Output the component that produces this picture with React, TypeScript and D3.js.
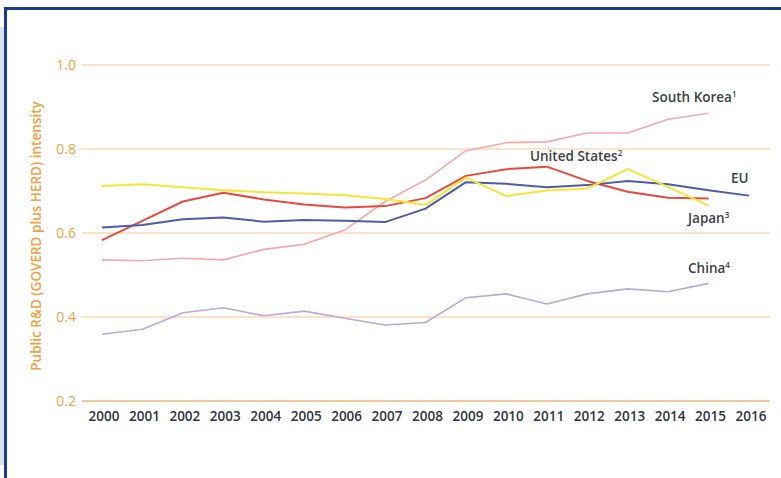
import React from "react";
import * as d3 from "d3";

const years = [2000, 2001, 2002, 2003, 2004, 2005, 2006, 2007, 2008, 2009, 2010, 2011, 2012, 2013, 2014, 2015, 2016];
const yTicks = [0.2, 0.4, 0.6, 0.8, 1.0];

const southKorea = [0.536, 0.534, 0.54, 0.536, 0.561, 0.573, 0.607, 0.675, 0.726, 0.796, 0.815, 0.817, 0.838, 0.838, 0.871, 0.885];
const unitedStates = [0.583, 0.629, 0.675, 0.696, 0.68, 0.668, 0.661, 0.664, 0.683, 0.736, 0.752, 0.758, 0.724, 0.698, 0.684, 0.682];
const eu = [0.613, 0.619, 0.633, 0.637, 0.627, 0.631, 0.629, 0.626, 0.658, 0.721, 0.717, 0.709, 0.714, 0.724, 0.716, 0.702, 0.689];
const japan = [0.712, 0.716, 0.709, 0.702, 0.697, 0.694, 0.69, 0.681, 0.667, 0.732, 0.688, 0.701, 0.706, 0.752, 0.71, 0.665];
const china = [0.359, 0.371, 0.41, 0.422, 0.403, 0.414, 0.397, 0.381, 0.387, 0.446, 0.455, 0.431, 0.455, 0.467, 0.46, 0.48];

const seriesNames = ["South Korea", "United States", "EU", "Japan", "China"];
const seriesSup = ["1", "2", "", "3", "4"];

const W = 781;
const H = 478;

export default function App() {
  const x = d3.scaleLinear().domain([2000, 2016]).range([102, 749]);
  const y = d3.scaleLinear().domain([0.2, 1.0]).range([401, 65]);

  const series = [
    { name: seriesNames[0], sup: seriesSup[0], data: southKorea, color: "#f4a9a8", width: 1.6, lx: 652, ly: 102 },
    { name: seriesNames[1], sup: seriesSup[1], data: unitedStates, color: "#e8493c", width: 2, lx: 530, ly: 161 },
    { name: seriesNames[2], sup: seriesSup[2], data: eu, color: "#4c5ca8", width: 2, lx: 731, ly: 183 },
    { name: seriesNames[3], sup: seriesSup[3], data: japan, color: "#f4e634", width: 2, lx: 688, ly: 223 },
    { name: seriesNames[4], sup: seriesSup[4], data: china, color: "#bba8d8", width: 1.6, lx: 688, ly: 273 },
  ];

  const line = d3
    .line<number>()
    .x((_, i) => x(years[i]))
    .y((d) => y(d));

  const font = "'Open Sans', 'Noto Sans', sans-serif";
  const orange = "#f29f45";

  return (
    <svg
      width={W}
      height={H}
      style={{ position: "absolute", left: 0, top: 0, background: "#fff" }}
      fontFamily={font}
    >
      <rect x={0} y={0} width={W} height={H} fill="#fff" />
      {/* frame */}
      <rect x={0} y={27} width={4} height={438} fill="#d3e2ee" />
      <rect x={4} y={7} width={W - 4} height={3} fill="#1c3b8a" />
      <rect x={4} y={7} width={3} height={H - 7} fill="#1c3b8a" />

      {/* gridlines */}
      {yTicks.map((t) => (
        <g key={t}>
          <line
            x1={82}
            x2={770}
            y1={y(t)}
            y2={y(t)}
            stroke={t === 0.2 ? "#f5b572" : "#fcd9b3"}
            strokeWidth={1.5}
          />
          <text
            x={76}
            y={y(t)}
            dy="0.36em"
            textAnchor="end"
            fill={orange}
            fontSize={14}
          >
            {d3.format(".1f")(t)}
          </text>
        </g>
      ))}

      {/* y-axis title */}
      <text
        transform={`translate(41,236) rotate(-90)`}
        textAnchor="middle"
        fill={orange}
        fontSize={13.5}
        fontWeight={600}
      >
        Public R&amp;D (GOVERD plus HERD) intensity
      </text>

      {/* x labels */}
      {years.map((yr) => (
        <text
          key={yr}
          x={x(yr) + 2}
          y={421}
          textAnchor="middle"
          fill="#2e3440"
          fontSize={13.5}
          fontWeight={600}
        >
          {yr}
        </text>
      ))}

      {/* lines */}
      {series.map((s) => (
        <path
          key={s.name}
          d={line(s.data) || ""}
          fill="none"
          stroke={s.color}
          strokeWidth={s.width}
          strokeLinejoin="round"
        />
      ))}

      {/* labels */}
      {series.map((s) => (
        <text
          key={s.name + "-label"}
          x={s.lx}
          y={s.ly}
          fill="#3a3f48"
          fontSize={13.5}
          fontWeight={600}
        >
          {s.name}
          {s.sup && (
            <tspan fontSize={8} dy={-5}>
              {s.sup}
            </tspan>
          )}
        </text>
      ))}
    </svg>
  );
}
